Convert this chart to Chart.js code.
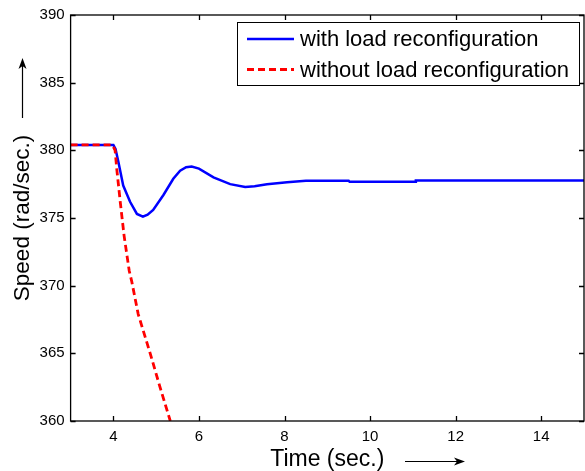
<!DOCTYPE html>
<html>
<head>
<meta charset="utf-8">
<script src="https://cdn.jsdelivr.net/npm/chart.js@4/dist/chart.umd.min.js"></script>
<style>
html,body{margin:0;padding:0;background:#fff;}
#wrap{width:585px;height:471px;position:relative;}
</style>
</head>
<body>
<div id="wrap"><canvas id="c" width="585" height="471"></canvas></div>
<script>
// ---- data ----
const seriesNames = ["with load reconfiguration", "without load reconfiguration"];
const withTime  = [3, 4.0, 4.05, 4.12, 4.23, 4.39, 4.55, 4.69, 4.8, 4.93, 5.17, 5.40, 5.56, 5.7, 5.83, 6.0, 6.34, 6.73, 7.08, 7.3, 7.59, 8.06, 8.5, 9.5, 9.52, 11.05, 11.07, 15];
const withSpeed = [380.4, 380.4, 380.1, 379.1, 377.4, 376.2, 375.3, 375.1, 375.25, 375.6, 376.7, 377.9, 378.5, 378.75, 378.8, 378.65, 378.0, 377.5, 377.3, 377.35, 377.5, 377.64, 377.75, 377.75, 377.68, 377.68, 377.77, 377.77];
const withoutTime  = [3, 3.98, 4.04, 4.08, 4.16, 4.25, 4.37, 4.43, 4.58, 4.86, 5.09, 5.33];
const withoutSpeed = [380.4, 380.4, 380.0, 378.6, 376.2, 373.7, 371.1, 370.3, 367.9, 365.0, 362.5, 360.0];
const xTicks = [4, 6, 8, 10, 12, 14];
const yTicks = [360, 365, 370, 375, 380, 385, 390];

const FONT = "'Liberation Sans', Arial, Helvetica, sans-serif";
const toPts = (xs, ys) => xs.map((x, i) => ({x: x, y: ys[i]}));

const frame = {
  id: 'frame',
  afterDraw(chart) {
    const {ctx, chartArea: a, scales} = chart;
    const xs = scales.x, ys = scales.y;
    ctx.save();
    ctx.strokeStyle = '#000';
    ctx.lineWidth = 1.3;
    ctx.strokeRect(a.left, a.top, a.right - a.left, a.bottom - a.top);
    const tl = 5;
    ctx.beginPath();
    xTicks.forEach(v => {
      const px = Math.round(xs.getPixelForValue(v)) + 0.5;
      ctx.moveTo(px, a.bottom); ctx.lineTo(px, a.bottom - tl);
      ctx.moveTo(px, a.top); ctx.lineTo(px, a.top + tl);
    });
    yTicks.forEach(v => {
      const py = Math.round(ys.getPixelForValue(v)) + 0.5;
      ctx.moveTo(a.left, py); ctx.lineTo(a.left + tl, py);
      ctx.moveTo(a.right, py); ctx.lineTo(a.right - tl, py);
    });
    ctx.stroke();

    // arrows next to axis titles
    ctx.lineWidth = 1.2;
    ctx.fillStyle = '#000';
    // y arrow (up)
    const ax = 22.5, ay0 = 118, ay1 = 58;
    ctx.beginPath(); ctx.moveTo(ax, ay0); ctx.lineTo(ax, ay1 + 8); ctx.stroke();
    ctx.beginPath(); ctx.moveTo(ax, ay1); ctx.lineTo(ax - 4, ay1 + 11); ctx.lineTo(ax, ay1 + 8); ctx.lineTo(ax + 4, ay1 + 11); ctx.closePath(); ctx.fill();
    // x arrow (right)
    const by = 461.5, bx0 = 405, bx1 = 465;
    ctx.beginPath(); ctx.moveTo(bx0, by); ctx.lineTo(bx1 - 8, by); ctx.stroke();
    ctx.beginPath(); ctx.moveTo(bx1, by); ctx.lineTo(bx1 - 11, by - 4); ctx.lineTo(bx1 - 8, by); ctx.lineTo(bx1 - 11, by + 4); ctx.closePath(); ctx.fill();

    // legend
    const lx = 237.5, ly = 22.5, lw = 342, lh = 63;
    ctx.fillStyle = '#fff';
    ctx.fillRect(lx, ly, lw, lh);
    ctx.strokeStyle = '#000';
    ctx.lineWidth = 1;
    ctx.strokeRect(lx, ly, lw, lh);
    ctx.font = '22px ' + FONT;
    ctx.textBaseline = 'middle';
    ctx.textAlign = 'left';
    seriesNames.forEach((name, i) => {
      const ds = chart.data.datasets[i];
      const yy = 39 + i * 30.5;
      ctx.strokeStyle = ds.borderColor;
      ctx.lineWidth = ds.borderWidth;
      ctx.setLineDash(ds.borderDash || []);
      ctx.beginPath(); ctx.moveTo(247, yy); ctx.lineTo(294, yy); ctx.stroke();
      ctx.setLineDash([]);
      ctx.fillStyle = '#000';
      ctx.fillText(name, 300, yy + 1);
    });
    ctx.restore();
  }
};

new Chart(document.getElementById('c'), {
  type: 'line',
  data: {
    datasets: [
      {label: seriesNames[0], data: toPts(withTime, withSpeed), borderColor: '#0000ff', borderWidth: 2.5, pointRadius: 0, tension: 0, order: 1},
      {label: seriesNames[1], data: toPts(withoutTime, withoutSpeed), borderColor: '#ff0000', borderWidth: 2.8, borderDash: [7, 4], pointRadius: 0, tension: 0, order: 0}
    ]
  },
  options: {
    responsive: false,
    animation: false,
    layout: {padding: {top: 14, right: 1, left: 0, bottom: 0}},
    plugins: {legend: {display: false}, tooltip: {enabled: false}},
    scales: {
      x: {
        type: 'linear', min: 3, max: 15,
        afterBuildTicks: s => { s.ticks = xTicks.map(v => ({value: v})); },
        afterFit: s => { s.height = 50; },
        grid: {display: false, drawTicks: false},
        border: {display: false},
        ticks: {color: '#000', font: {size: 15, family: FONT}, padding: 7, maxRotation: 0},
        title: {display: true, text: 'Time (sec.)', color: '#000', font: {size: 23, family: FONT}, padding: {top: 0, bottom: -2}}
      },
      y: {
        type: 'linear', min: 360, max: 390,
        afterBuildTicks: s => { s.ticks = yTicks.map(v => ({value: v})); },
        afterFit: s => { s.width = 70.6; },
        grid: {display: false, drawTicks: false},
        border: {display: false},
        ticks: {color: '#000', font: {size: 15, family: FONT}, padding: 6},
        title: {display: true, text: 'Speed (rad/sec.)', color: '#000', font: {size: 22.5, family: FONT}, padding: {top: 9, bottom: 0}}
      }
    }
  },
  plugins: [frame]
});
</script>
</body>
</html>
